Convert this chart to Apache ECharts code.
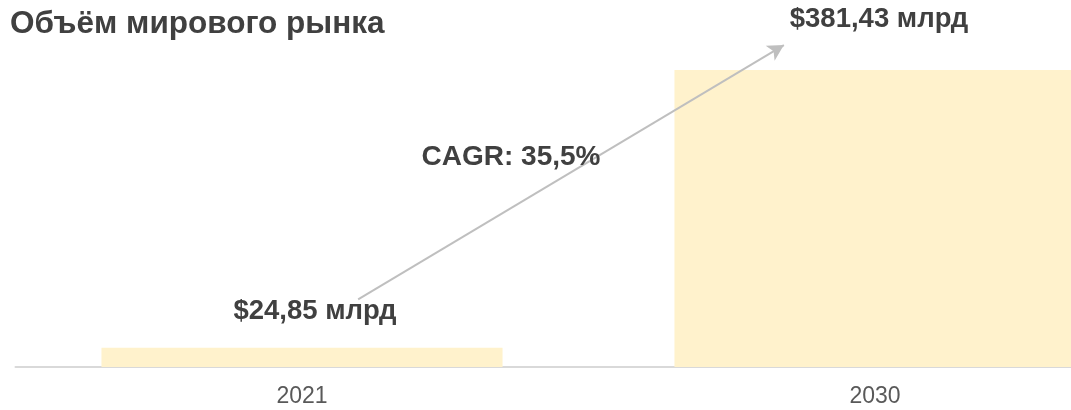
<!DOCTYPE html>
<html>
<head>
<meta charset="utf-8">
<title>Объём мирового рынка</title>
<script src="https://cdn.jsdelivr.net/npm/echarts@6/dist/echarts.min.js"></script>
<style>
  html, body { margin: 0; padding: 0; background: #fff; }
  #chart { width: 1071px; height: 410px; }
</style>
</head>
<body>
<div id="chart"></div>
<script>
// данные
const categories = ['2021', '2030']
const marketValues = [24.85, 381.43]
const valueLabels = ['$24,85 млрд', '$381,43 млрд']
const cagrText = 'CAGR: 35,5%'
// стрелка в координатах данных (x: индекс категории, y: млрд)
const arrowFrom = [0.098, 86.9]
const arrowTo = [0.841, 413.5]

// сдвиг подписей над столбцами
const labelOffsets = [[13, -17], [4, -32]]

const textColor = '#404040'
const fontFamily = 'Liberation Sans, Arial, sans-serif'

const chart = echarts.init(document.getElementById('chart'))

const barData = marketValues.map((v, i) => {
  return {
    value: v,
    label: { offset: labelOffsets[i] }
  }
})

const option = {
  backgroundColor: '#fff',
  animation: false,
  title: [
    {
      text: 'Объём мирового рынка',
      left: 5,
      top: 3,
      textStyle: { color: textColor, fontSize: 31.5, fontWeight: 'bold', fontFamily: fontFamily }
    },
    {
      text: cagrText,
      left: 506,
      top: 138,
      textAlign: 'center',
      textStyle: { color: textColor, fontSize: 28, fontWeight: 'bold', fontFamily: fontFamily }
    }
  ],
  grid: {
    left: 15.5,
    width: 1146,
    top: 16.6,
    bottom: 43,
    outerBoundsMode: 'none',
    containLabel: false
  },
  xAxis: [
    {
      type: 'category',
      data: categories,
      axisLine: { lineStyle: { color: '#D9D9D9', width: 2 } },
      axisTick: { show: false },
      axisLabel: { color: '#595959', fontSize: 23, margin: 18, fontFamily: fontFamily }
    },
    {
      type: 'value',
      min: -0.5,
      max: 1.5,
      show: false
    }
  ],
  yAxis: {
    type: 'value',
    min: 0,
    max: 450,
    show: false,
    splitLine: { show: false }
  },
  series: [
    {
      type: 'bar',
      data: barData,
      barWidth: '70%',
      itemStyle: { color: '#FFF2CC' },
      label: {
        show: true,
        position: 'top',
        distance: 5,
        color: textColor,
        fontSize: 27.5,
        fontWeight: 'bold',
        fontFamily: fontFamily,
        formatter: (p) => valueLabels[p.dataIndex]
      },
      silent: true
    },
    {
      type: 'scatter',
      xAxisIndex: 1,
      data: [],
      silent: true,
      markLine: {
        silent: true,
        symbol: ['none', 'arrow'],
        symbolSize: [13, 16],
        label: { show: false },
        lineStyle: { color: '#BFBFBF', width: 2, type: 'solid' },
        data: [[{ coord: arrowFrom }, { coord: arrowTo }]]
      }
    }
  ]
}

chart.setOption(option)
window.addEventListener('resize', () => chart.resize(), false)
</script>
</body>
</html>
